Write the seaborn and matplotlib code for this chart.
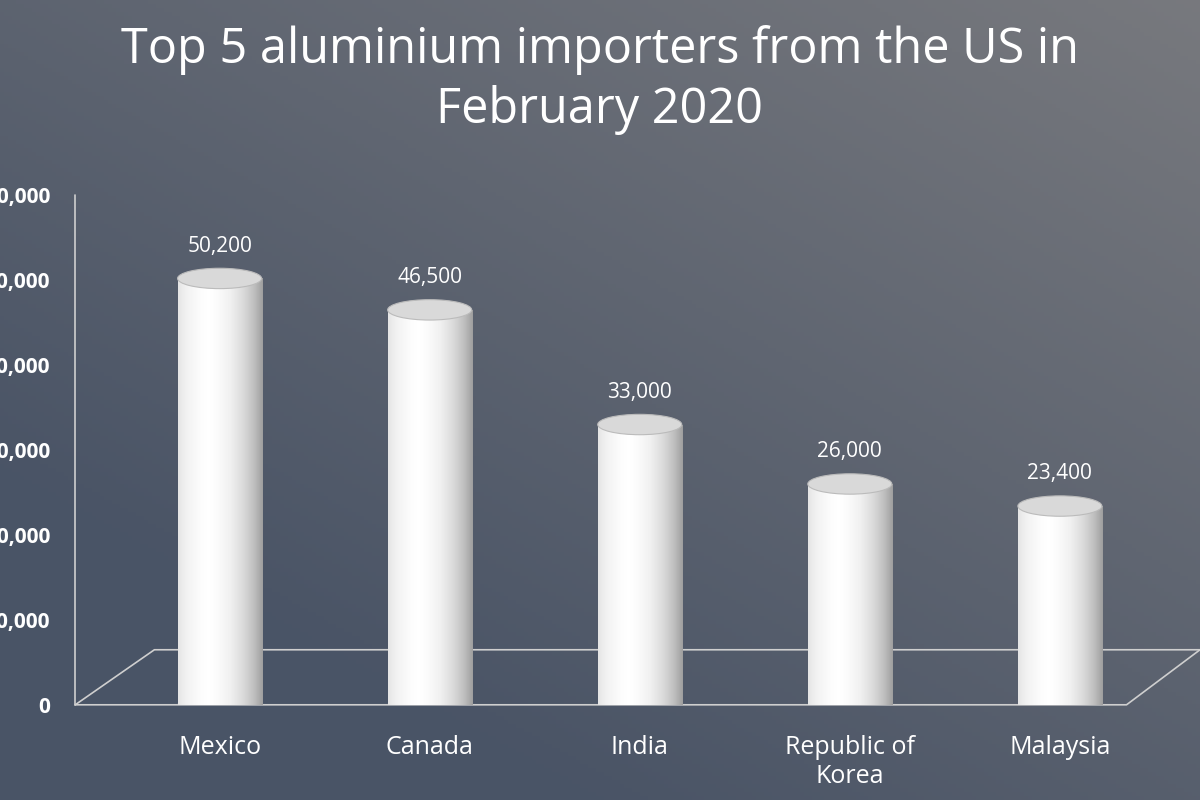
import numpy as np
import matplotlib
matplotlib.use("Agg")
import matplotlib.pyplot as plt
from matplotlib.patches import Ellipse
import seaborn as sns
import pandas as pd

countries = ["Mexico", "Canada", "India", "Republic of\nKorea", "Malaysia"]
values = [50200, 46500, 33000, 26000, 23400]
value_labels = ["50,200", "46,500", "33,000", "26,000", "23,400"]
yticks = [0, 10000, 20000, 30000, 40000, 50000, 60000]

sns.set_style("white")
plt.rcParams['font.family'] = ['Open Sans', 'DejaVu Sans']

fig = plt.figure(figsize=(12, 8), dpi=100)

# background: dark sky top-left, grey metal pile to the right
bg = fig.add_axes([0, 0, 1, 1])
yy, xx = np.mgrid[0:1:200j, 0:1:300j]
top = np.array([0.29, 0.33, 0.40])
metal = np.array([0.50, 0.50, 0.51])
mix = np.clip((1 - yy) * 0.6 + xx * 0.5 - 0.25, 0, 1)[..., None]
img = top * (1 - mix) + metal * mix
bg.imshow(img, extent=[0, 1, 0, 1], aspect="auto", origin="upper")
bg.axis("off")

ax = fig.add_axes([0.058, 0.119, 0.942, 0.637])
ax.patch.set_alpha(0)
df = pd.DataFrame({"country": countries, "value": values})
sns.barplot(data=df, x="country", y="value", color="white", width=0.4, ax=ax,
            saturation=1, edgecolor="none")

ax.set_xlim(-0.714, 4.667)
ax.set_ylim(0, 60000)
ax.set_yticks(yticks)
ax.set_yticklabels([f"{v:,}" for v in yticks], color="white", fontsize=15,
                   fontweight="bold")
ax.tick_params(axis="y", length=0, pad=14)
ax.tick_params(axis="x", length=0, pad=22, labelcolor="white", labelsize=18)
ax.set_xlabel("")
ax.set_ylabel("")
for s in ax.spines.values():
    s.set_visible(False)

grad = np.linspace(0, 1, 100)
grad = (1 - 0.45 * np.abs(grad - 0.35) ** 1.5 * 2)[None, :]
for p, v, lab in zip(ax.patches, values, value_labels):
    x0, w = p.get_x(), p.get_width()
    im = ax.imshow(grad, cmap="Greys_r", vmin=0, vmax=1, aspect="auto",
                   extent=[x0, x0 + w, 0, v], zorder=3)
    im.set_clip_path(p)
    ax.add_patch(Ellipse((x0 + w / 2, v), w, 2400, facecolor="#d9d9d9",
                         edgecolor="#bbbbbb", lw=0.8, zorder=4))
    ax.add_patch(Ellipse((x0 + w / 2, 0), w, 2400, facecolor="#e8e8e8",
                         edgecolor="none", zorder=2))
    ax.text(x0 + w / 2, v + 3800, lab, ha="center", va="center",
            color="white", fontsize=15, zorder=5)

# 3D floor outline
fl = dict(color="#cfcfcf", lw=1.2, transform=ax.transAxes, clip_on=False)
ax.plot([0.005, 0.075, 1.0], [0, 0.108, 0.108], **fl)
ax.plot([0.005, 0.935, 1.0], [0, 0, 0.108], **fl)
ax.plot([0.005, 0.005], [0, 1], color="#cfcfcf", lw=1.2,
        transform=ax.transAxes, clip_on=False)

fig.text(0.5, 0.9, "Top 5 aluminium importers from the US in\nFebruary 2020",
         ha="center", va="center", color="white", fontsize=35, linespacing=1.25)

fig.savefig("out.png", dpi=100)
